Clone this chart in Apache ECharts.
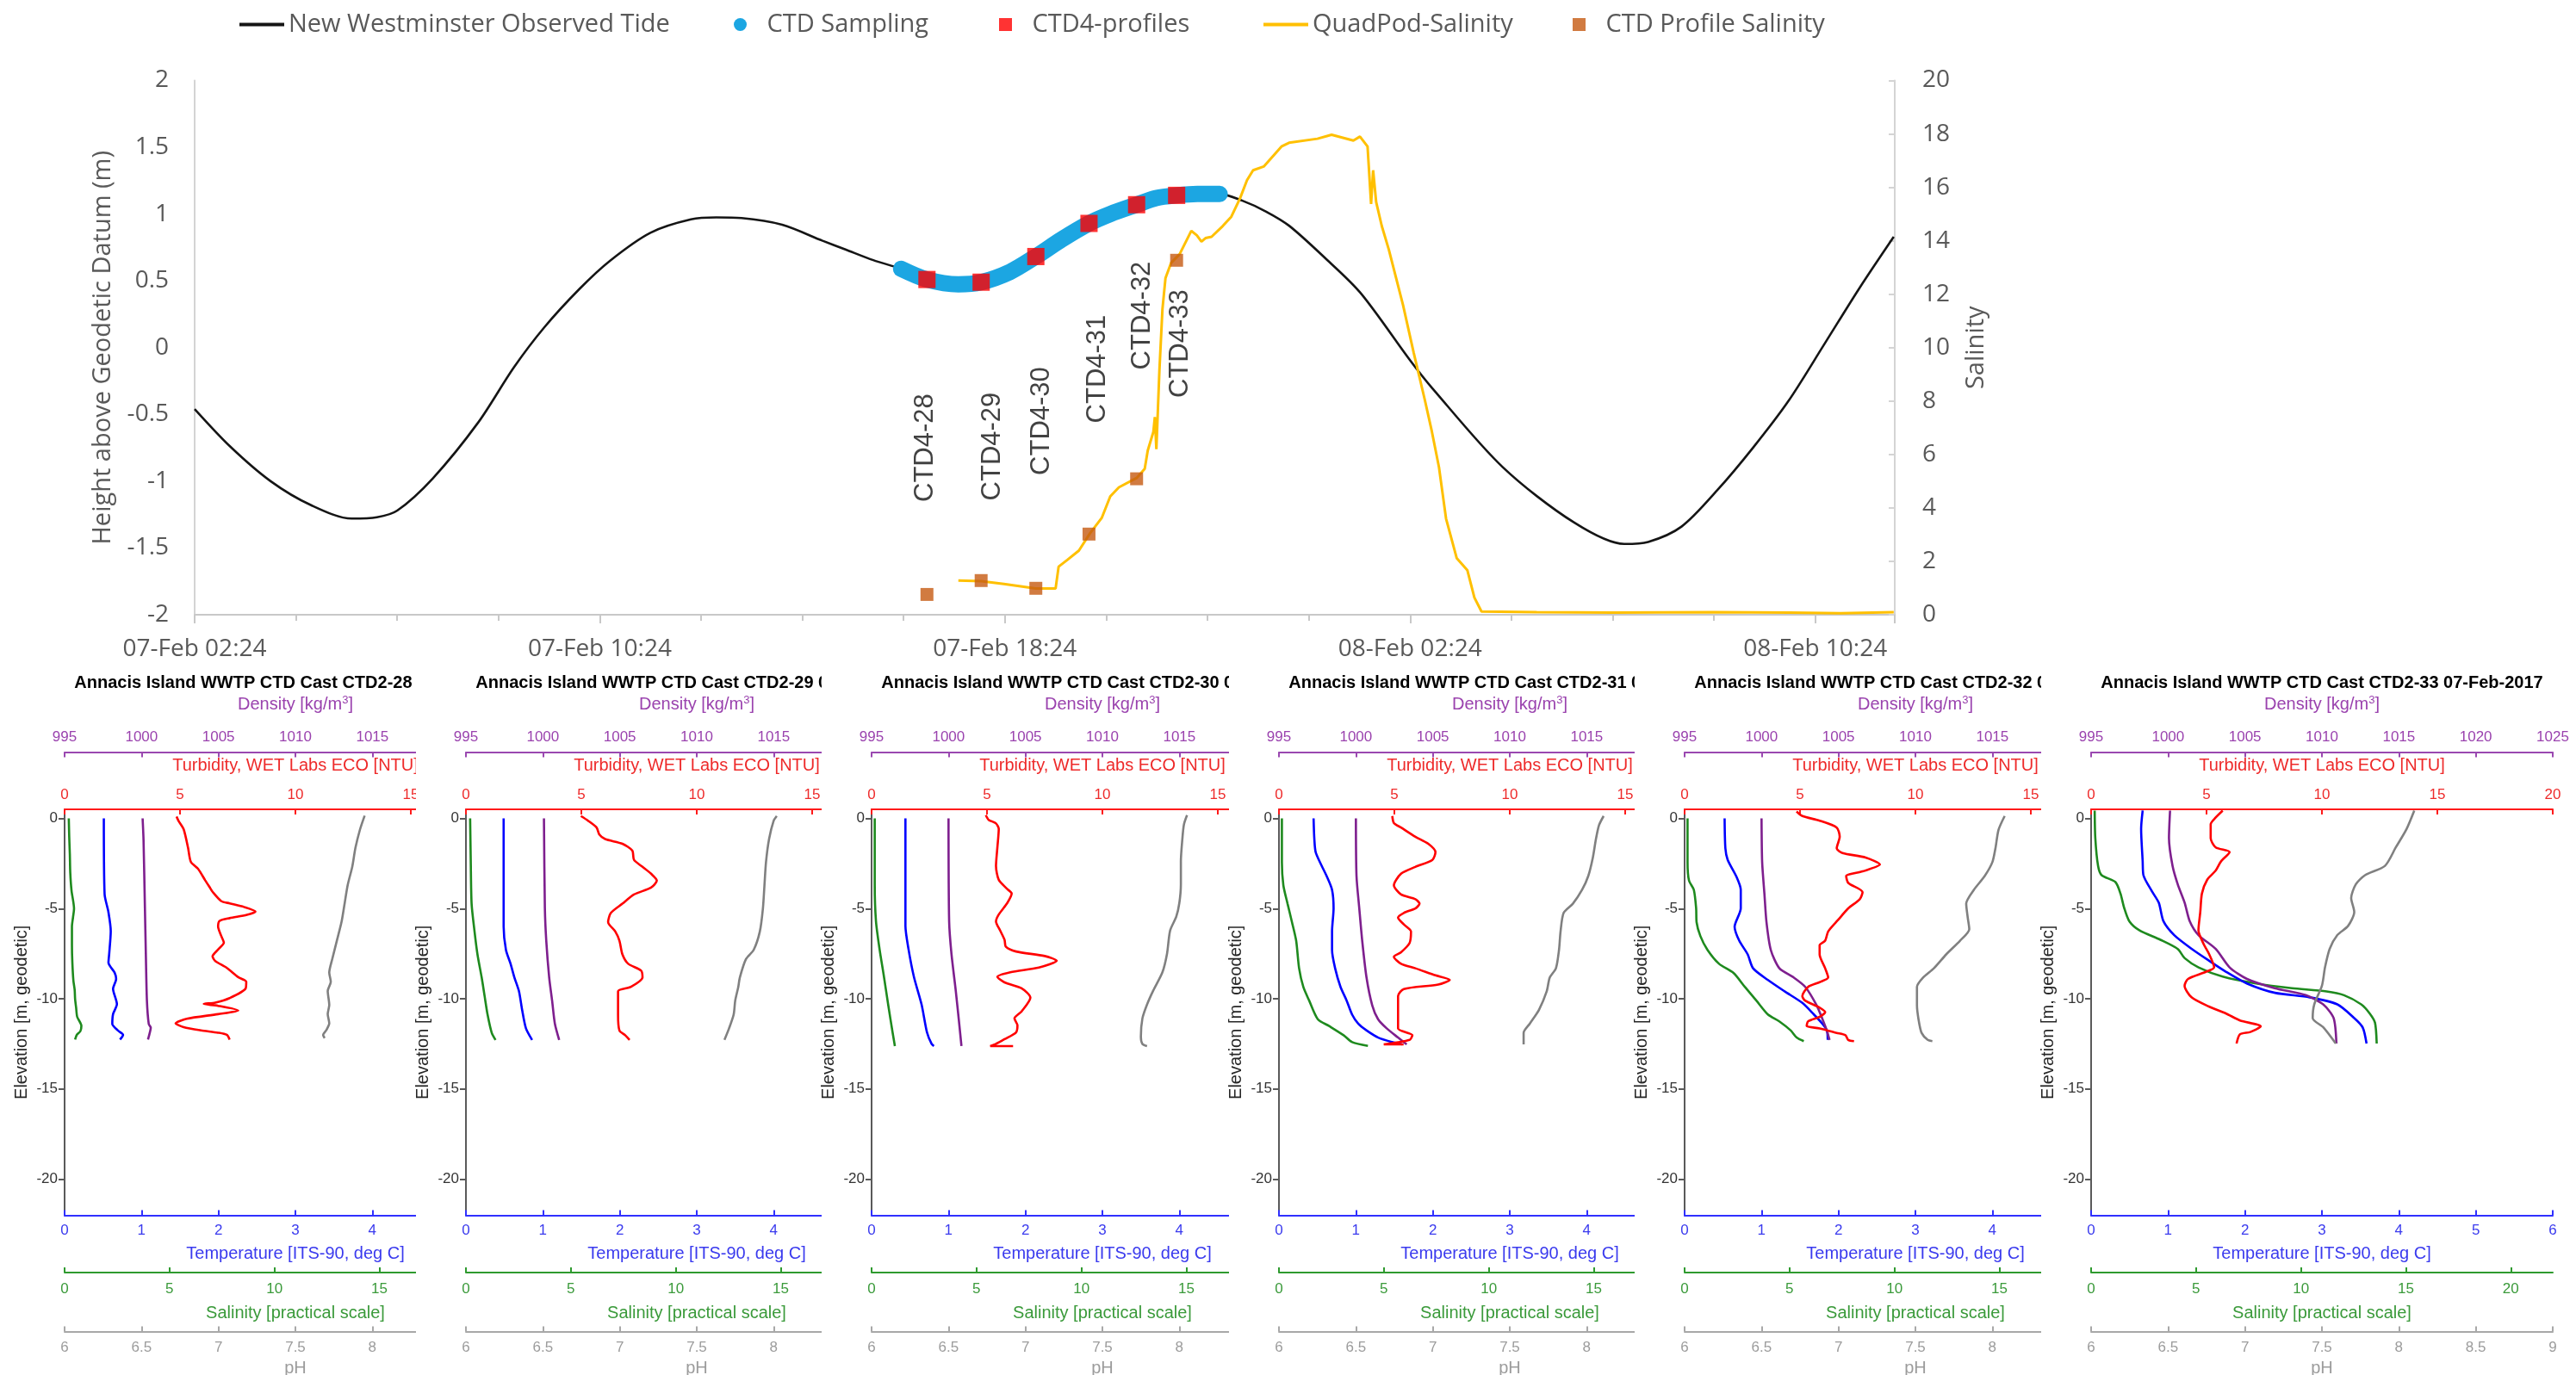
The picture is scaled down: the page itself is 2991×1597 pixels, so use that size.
<!DOCTYPE html>
<html>
<head>
<meta charset="utf-8">
<script src="https://cdn.jsdelivr.net/npm/echarts@6/dist/echarts.min.js"></script>
<style>
  html, body { margin: 0; padding: 0; background: #ffffff; }
  #chart { width: 2991px; height: 1597px; }
</style>
</head>
<body>
<div id="chart"></div>
<script>
// ---------------- Tide / salinity time series ----------------
// x values are hours after 07-Feb-2017 02:24
const timeTickLabels = ['07-Feb 02:24', '07-Feb 10:24', '07-Feb 18:24', '08-Feb 02:24', '08-Feb 10:24'];

// New Westminster observed tide [hours, m above geodetic datum]
const observedTide = [
  [0, -0.46], [0.7, -0.74], [1.5, -1.0], [2.3, -1.18], [3.1, -1.28], [3.6, -1.27], [4.0, -1.22],
  [4.7, -0.98], [5.6, -0.56], [6.3, -0.15], [6.9, 0.15], [7.6, 0.44], [8.2, 0.65], [9.0, 0.86],
  [9.8, 0.96], [10.3, 0.975], [10.8, 0.97], [11.6, 0.92], [12.4, 0.80], [12.85, 0.735], [13.4, 0.655],
  [13.95, 0.59], [14.46, 0.51], [15.08, 0.474], [15.53, 0.49], [16.1, 0.567], [16.61, 0.682],
  [17.12, 0.81], [17.66, 0.93], [18.08, 1.0], [18.6, 1.07], [18.99, 1.12], [19.39, 1.14], [19.8, 1.15],
  [20.24, 1.15], [20.69, 1.10], [21.15, 1.02], [21.61, 0.913], [22.31, 0.675], [23.02, 0.41],
  [24.0, -0.095], [24.43, -0.30], [25.83, -0.895], [27.24, -1.31], [28.23, -1.47], [28.7, -1.455],
  [29.36, -1.34], [30.06, -1.07], [30.77, -0.75], [31.47, -0.40], [32.17, 0.02], [32.88, 0.45], [33.55, 0.83]
];

// Period during which CTD sampling took place [start hour, end hour]
const samplingWindow = [13.95, 20.24];

// CTD4 profile casts
const profileNames = ['CTD4-28', 'CTD4-29', 'CTD4-30', 'CTD4-31', 'CTD4-32', 'CTD4-33'];
const profileHours = [14.46, 15.53, 16.61, 17.66, 18.6, 19.39];
const profileTide = [0.51, 0.49, 0.682, 0.93, 1.07, 1.14];
const profileSalinity = [0.76, 1.28, 0.99, 3.02, 5.09, 13.27];
// annotation anchors for the cast names [hours, m]
const profileLabelHours = [14.43, 15.76, 16.72, 17.83, 18.71, 19.47];
const profileLabelLevel = [-0.75, -0.74, -0.55, -0.16, 0.24, 0.03];

// QuadPod salinity [hours, PSU]
const quadPodSalinity = [
  [15.08, 1.28], [15.53, 1.26], [15.98, 1.15], [16.61, 0.98], [17.0, 0.98], [17.06, 1.8], [17.23, 2.05],
  [17.46, 2.4], [17.68, 3.05], [17.91, 3.62], [18.08, 4.43], [18.25, 4.77], [18.6, 5.12], [18.76, 5.46],
  [18.82, 6.15], [18.93, 6.84], [18.96, 7.4], [18.99, 6.2], [19.05, 9.14], [19.11, 11.44], [19.17, 12.6],
  [19.28, 13.17], [19.45, 13.5], [19.68, 14.37], [19.79, 14.2], [19.88, 13.97], [19.96, 14.1],
  [20.08, 14.15], [20.3, 14.55], [20.47, 14.9], [20.64, 15.58], [20.78, 16.27], [20.9, 16.64],
  [21.11, 16.78], [21.46, 17.53], [21.61, 17.67], [22.17, 17.82], [22.45, 17.97], [22.88, 17.75],
  [23.01, 17.9], [23.16, 17.53], [23.23, 15.38], [23.27, 16.64], [23.33, 15.45], [23.44, 14.56],
  [23.58, 13.67], [23.86, 11.6], [24.07, 9.82], [24.29, 8.05], [24.43, 6.86], [24.57, 5.53],
  [24.71, 3.6], [24.92, 2.12], [25.13, 1.67], [25.27, 0.64], [25.41, 0.12], [26.5, 0.1], [28.0, 0.08],
  [30.0, 0.1], [31.5, 0.08], [32.5, 0.06], [33.55, 0.1]
];

// ---------------- CTD cast profiles [value, elevation m] ----------------
const castNames = ['CTD2-28', 'CTD2-29', 'CTD2-30', 'CTD2-31', 'CTD2-32', 'CTD2-33'];
const castDate = '07-Feb-2017';

const sal28 = [[0.2,0],[0.22,-1],[0.25,-2],[0.27,-3],[0.33,-4],[0.45,-5],[0.4,-5.5],[0.35,-6],[0.35,-7],[0.37,-8],[0.42,-9],[0.48,-9.5],[0.5,-10],[0.55,-10.5],[0.6,-11],[0.8,-11.5],[0.75,-11.8],[0.58,-12],[0.5,-12.26]];
const temp28 = [[0.51,0],[0.52,-4.2],[0.57,-5.2],[0.6,-6.25],[0.58,-7.5],[0.57,-8.0],[0.65,-8.55],[0.67,-8.9],[0.63,-9.45],[0.68,-10.3],[0.63,-10.85],[0.62,-11.4],[0.69,-11.75],[0.76,-12.0],[0.72,-12.26]];
const dens28 = [[1000.07,0],[1000.13,-1.2],[1000.22,-4.97],[1000.28,-7.5],[1000.35,-10.1],[1000.47,-11.4],[1000.6,-11.6],[1000.47,-12.1],[1000.42,-12.26]];
const turb28 = [[4.85,0.1],[4.94,-0.15],[5.16,-0.61],[5.35,-1.64],[5.47,-2.41],[5.78,-2.79],[6.09,-3.43],[6.28,-3.81],[6.41,-4.07],[6.78,-4.58],[7.15,-4.71],[7.77,-4.91],[8.27,-5.17],[7.9,-5.35],[7.15,-5.53],[6.72,-5.68],[6.65,-5.99],[6.78,-6.5],[6.9,-6.89],[6.65,-7.27],[6.41,-7.65],[6.53,-7.91],[7.03,-8.29],[7.52,-8.8],[7.87,-9.06],[7.84,-9.44],[7.15,-9.96],[6.53,-10.21],[6.03,-10.29],[6.65,-10.39],[7.52,-10.65],[6.65,-10.85],[5.29,-11.11],[4.81,-11.36],[5.16,-11.57],[5.91,-11.75],[6.65,-11.88],[7.03,-12.0],[7.15,-12.26]];
const ph28 = [[7.95,0.15],[7.92,-0.61],[7.89,-1.64],[7.87,-2.66],[7.84,-3.69],[7.82,-4.71],[7.8,-5.73],[7.77,-6.76],[7.74,-7.78],[7.72,-8.55],[7.73,-9.06],[7.71,-9.57],[7.72,-10.34],[7.71,-10.85],[7.72,-11.36],[7.7,-11.75],[7.68,-12.0],[7.69,-12.18]];

const sal29 = [[0.2,0],[0.23,-2.4],[0.27,-4.73],[0.41,-6.27],[0.55,-7.54],[0.75,-8.82],[0.89,-9.85],[1.03,-10.87],[1.23,-11.89],[1.41,-12.28]];
const temp29 = [[0.49,0],[0.49,-3.7],[0.49,-6.0],[0.52,-7.29],[0.58,-8.06],[0.63,-8.82],[0.69,-9.59],[0.73,-10.61],[0.78,-11.64],[0.86,-12.28]];
const dens29 = [[1000.07,0],[1000.13,-4.99],[1000.22,-6.78],[1000.41,-8.82],[1000.6,-10.1],[1000.78,-11.38],[1001.06,-12.28]];
const turb29 = [[4.98,0.13],[5.29,-0.13],[5.66,-0.51],[5.78,-0.9],[6.03,-1.15],[6.78,-1.41],[7.21,-1.79],[7.28,-2.3],[7.65,-2.69],[8.02,-3.07],[8.27,-3.45],[8.02,-3.84],[7.28,-4.22],[6.78,-4.73],[6.28,-5.24],[6.16,-5.75],[6.47,-6.27],[6.65,-6.78],[6.78,-7.54],[7.03,-8.06],[7.59,-8.44],[7.65,-8.82],[7.15,-9.34],[6.59,-9.59],[6.59,-10.87],[6.65,-11.76],[6.9,-12.02],[7.09,-12.28]];
const ph29 = [[8.02,0.13],[8.0,-0.13],[7.97,-1.15],[7.95,-2.43],[7.94,-3.71],[7.93,-4.99],[7.91,-6.27],[7.87,-7.29],[7.82,-7.8],[7.78,-8.82],[7.77,-9.34],[7.75,-10.1],[7.74,-10.87],[7.71,-11.64],[7.68,-12.28]];

const sal30 = [[0.15,0],[0.15,-3.66],[0.21,-5.71],[0.38,-7.25],[0.59,-8.78],[0.79,-10.32],[1.0,-11.86],[1.11,-12.62]];
const temp30 = [[0.44,0],[0.44,-5.97],[0.48,-7.25],[0.55,-8.78],[0.65,-10.32],[0.72,-11.86],[0.78,-12.5],[0.81,-12.62]];
const dens30 = [[1000.0,0],[1000.04,-5.71],[1000.19,-7.5],[1000.47,-9.55],[1000.69,-11.34],[1000.84,-12.62]];
const turb30 = [[4.95,0.18],[5.07,-0.08],[5.39,-0.28],[5.51,-0.59],[5.45,-1.61],[5.39,-2.64],[5.51,-3.41],[5.88,-3.92],[6.07,-4.17],[5.88,-4.69],[5.51,-5.33],[5.39,-5.71],[5.57,-6.22],[5.76,-6.73],[5.82,-7.12],[6.26,-7.38],[7.5,-7.63],[8.02,-7.89],[7.25,-8.27],[6.01,-8.53],[5.45,-8.78],[5.76,-9.09],[6.5,-9.42],[6.88,-9.94],[6.5,-10.7],[6.19,-11.09],[6.32,-11.47],[6.26,-11.86],[5.76,-12.24],[5.39,-12.5],[5.14,-12.62],[6.13,-12.62]];
const ph30 = [[8.05,0.18],[8.03,-0.33],[8.02,-1.1],[8.01,-2.38],[8.01,-3.66],[8.0,-4.69],[7.98,-5.45],[7.94,-6.22],[7.92,-7.5],[7.89,-8.53],[7.83,-9.55],[7.79,-10.32],[7.76,-11.09],[7.75,-12.11],[7.76,-12.5],[7.79,-12.62]];

const sal31 = [[0.14,0],[0.14,-2.43],[0.21,-3.71],[0.41,-4.73],[0.62,-5.75],[0.82,-6.78],[0.96,-8.31],[1.16,-9.34],[1.44,-10.1],[1.85,-11.13],[2.39,-11.51],[3.08,-12.02],[3.49,-12.4],[4.24,-12.61]];
const temp31 = [[0.45,0],[0.46,-1.15],[0.48,-1.92],[0.62,-3.2],[0.69,-3.96],[0.71,-4.99],[0.69,-6.27],[0.69,-7.29],[0.73,-8.31],[0.8,-9.34],[0.88,-10.1],[0.95,-10.87],[1.03,-11.38],[1.14,-11.76],[1.29,-12.15],[1.47,-12.4],[1.6,-12.53]];
const dens31 = [[1000.0,0],[1000.04,-3.2],[1000.22,-4.99],[1000.41,-6.78],[1000.69,-8.82],[1001.06,-10.36],[1001.44,-11.13],[1002.0,-11.64],[1002.74,-12.15],[1003.3,-12.53]];
const turb31 = [[4.91,0.13],[4.98,-0.26],[5.29,-0.51],[5.91,-1.02],[6.47,-1.41],[6.78,-1.87],[6.65,-2.3],[5.91,-2.69],[5.29,-3.07],[4.98,-3.71],[5.29,-4.22],[5.91,-4.48],[6.09,-4.73],[5.91,-4.99],[5.41,-5.24],[5.16,-5.5],[5.41,-5.88],[5.72,-6.27],[5.66,-6.91],[5.29,-7.42],[4.98,-7.67],[5.29,-8.06],[5.91,-8.31],[6.78,-8.7],[7.4,-8.95],[6.9,-9.21],[5.41,-9.46],[5.16,-9.85],[5.16,-10.87],[5.16,-11.64],[5.78,-12.02],[5.66,-12.28],[4.54,-12.53],[5.4,-12.53]];
const ph31 = [[8.11,0.13],[8.08,-0.38],[8.06,-1.15],[8.04,-2.17],[8.01,-3.2],[7.97,-3.96],[7.91,-4.73],[7.85,-5.24],[7.83,-6.27],[7.82,-7.29],[7.8,-8.31],[7.76,-8.82],[7.74,-9.59],[7.69,-10.61],[7.63,-11.38],[7.59,-11.89],[7.59,-12.53]];

const sal32 = [[0.14,0],[0.14,-2.43],[0.21,-3.45],[0.44,-3.96],[0.55,-4.99],[0.57,-5.75],[0.75,-6.52],[1.09,-7.29],[1.64,-8.06],[2.33,-8.57],[2.87,-9.34],[3.42,-10.1],[3.97,-10.87],[4.51,-11.25],[5.06,-11.76],[5.34,-12.15],[5.68,-12.35]];
const temp32 = [[0.52,0],[0.53,-1.66],[0.56,-2.3],[0.67,-3.2],[0.73,-3.96],[0.73,-4.99],[0.65,-6.01],[0.71,-6.78],[0.82,-7.54],[0.89,-8.31],[1.08,-8.95],[1.3,-9.59],[1.53,-10.23],[1.68,-10.87],[1.79,-11.38],[1.85,-11.76],[1.86,-12.28]];
const dens32 = [[1000.0,0],[1000.04,-2.43],[1000.19,-4.22],[1000.32,-5.75],[1000.6,-7.29],[1001.16,-8.31],[1002.09,-8.82],[1002.84,-9.34],[1003.58,-10.36],[1003.96,-11.13],[1004.24,-11.76],[1004.42,-12.28]];
const turb32 = [[4.85,0.38],[5.1,0.13],[5.85,-0.13],[6.59,-0.51],[6.72,-1.02],[6.59,-1.66],[6.84,-1.92],[7.84,-2.17],[8.46,-2.56],[7.71,-2.94],[7.0,-3.2],[7.09,-3.58],[7.71,-4.09],[7.59,-4.48],[7.09,-4.99],[6.65,-5.63],[6.22,-6.27],[6.09,-6.78],[5.85,-7.03],[5.85,-7.54],[6.09,-8.31],[6.22,-8.82],[5.85,-9.08],[5.35,-9.34],[5.1,-9.85],[5.22,-10.1],[5.85,-10.49],[6.09,-10.74],[5.85,-11.0],[5.35,-11.25],[5.29,-11.51],[5.85,-11.64],[6.59,-11.89],[6.97,-12.02],[7.09,-12.28],[7.34,-12.35]];
const ph32 = [[8.08,0.13],[8.04,-0.64],[8.02,-1.66],[8.0,-2.43],[7.95,-3.2],[7.88,-3.96],[7.83,-4.73],[7.84,-5.5],[7.85,-6.14],[7.79,-6.78],[7.7,-7.54],[7.62,-8.31],[7.55,-8.82],[7.51,-9.34],[7.51,-10.36],[7.52,-11.13],[7.54,-11.89],[7.58,-12.28],[7.61,-12.35]];

const sal33 = [[0.17,0.43],[0.2,-1.1],[0.33,-2.63],[0.5,-3.15],[1.16,-3.53],[1.4,-4.17],[1.57,-4.94],[1.82,-5.7],[2.31,-6.21],[3.3,-6.73],[4.13,-7.24],[4.46,-7.75],[5.12,-8.26],[6.27,-8.77],[7.92,-9.16],[9.57,-9.41],[11.22,-9.59],[12.05,-9.8],[12.87,-10.31],[13.28,-10.82],[13.53,-11.33],[13.61,-12.48]];
const temp33 = [[0.67,0.43],[0.65,-0.59],[0.67,-2.38],[0.68,-3.15],[0.79,-4.04],[0.88,-4.68],[0.94,-5.7],[1.08,-6.47],[1.31,-7.24],[1.53,-7.88],[1.76,-8.52],[2.03,-9.16],[2.39,-9.67],[2.84,-9.92],[3.2,-10.31],[3.42,-11.07],[3.53,-11.59],[3.58,-12.48]];
const dens33 = [[1000.13,0.43],[1000.06,-1.1],[1000.29,-2.63],[1000.63,-3.66],[1001.08,-4.68],[1001.41,-5.7],[1001.98,-6.47],[1003.1,-7.24],[1004.0,-8.26],[1005.13,-8.9],[1006.93,-9.41],[1008.95,-9.8],[1010.08,-10.31],[1010.76,-11.07],[1010.94,-12.48]];
const turb33 = [[5.7,0.43],[5.4,0.05],[5.18,-0.33],[5.18,-1.1],[5.4,-1.61],[6.0,-1.87],[5.63,-2.38],[5.4,-2.89],[5.03,-3.4],[4.8,-4.17],[4.73,-5.19],[4.65,-6.21],[4.88,-6.98],[5.1,-7.49],[5.33,-8.26],[4.95,-8.52],[4.2,-8.9],[4.05,-9.28],[4.35,-9.92],[5.1,-10.43],[5.85,-10.82],[6.45,-11.2],[7.35,-11.53],[6.9,-11.84],[6.45,-11.97],[6.3,-12.48]];
const ph33 = [[8.1,0.43],[8.05,-0.59],[7.98,-1.61],[7.91,-2.63],[7.78,-3.15],[7.72,-3.66],[7.69,-4.42],[7.71,-5.19],[7.67,-5.96],[7.6,-6.47],[7.55,-7.24],[7.52,-8.26],[7.5,-9.28],[7.45,-10.31],[7.44,-11.07],[7.51,-11.59],[7.59,-12.48]];

const elevationTicks = [-20, -15, -10, -5, 0];

// ---------------- layout / styling ----------------
const TOP_FONT = 'Open Sans';
const PANEL_FONT = 'Liberation Sans';
const GRAY_TEXT = '#595959';

const panelLeft = [75, 541, 1012, 1485, 1956, 2428];   // x of each profile's elevation axis
const panelWidth = 536;
const panelTop = 940;
const panelHeight = 471.5;

const casts = [
  { sal: sal28, temp: temp28, dens: dens28, turb: turb28, ph: ph28 },
  { sal: sal29, temp: temp29, dens: dens29, turb: turb29, ph: ph29 },
  { sal: sal30, temp: temp30, dens: dens30, turb: turb30, ph: ph30 },
  { sal: sal31, temp: temp31, dens: dens31, turb: turb31, ph: ph31 },
  { sal: sal32, temp: temp32, dens: dens32, turb: turb32, ph: ph32 },
  { sal: sal33, temp: temp33, dens: dens33, turb: turb33, ph: ph33 }
];

// the five horizontal scales of a profile plot
const profileAxes = [
  { key: 'turb', name: 'Turbidity, WET Labs ECO [NTU]', min: 0, max: 20, interval: 5, line: '#FF1A1A', text: '#EE2A2A', lineColor: '#FF0000', position: 'top', offset: 0, margin: 8, nameGap: 39 },
  { key: 'dens', name: 'Density [kg/m{sup|3}]', min: 995, max: 1025, interval: 5, line: '#9A48B0', text: '#9A42AE', lineColor: '#7E1F8E', position: 'top', offset: 66.5, margin: 9, nameGap: 43 },
  { key: 'temp', name: 'Temperature [ITS-90, deg C]', min: 0, max: 6, interval: 1, line: '#3030FF', text: '#3A3AEE', lineColor: '#0000FF', position: 'bottom', offset: 0, margin: 9, nameGap: 33 },
  { key: 'sal', name: 'Salinity [practical scale]', min: 0, max: 22, interval: 5, line: '#2F9A2F', text: '#3A9A3A', lineColor: '#1E8A1E', position: 'bottom', offset: 66.5, margin: 11, nameGap: 35 },
  { key: 'ph', name: 'pH', min: 6, max: 9, interval: 0.5, line: '#A8A8A8', text: '#9C9C9C', lineColor: '#808080', position: 'bottom', offset: 135, margin: 10, nameGap: 31 }
];
const drawOrder = ['sal', 'temp', 'dens', 'turb', 'ph'];

// ---------------- option ----------------
const option = {
  animation: false,
  backgroundColor: '#ffffff',
  textStyle: { fontFamily: PANEL_FONT },
  grid: [{ left: 226, top: 93.5, width: 1974, height: 620.5, outerBoundsMode: 'none' }],
  xAxis: [{
    type: 'value', gridIndex: 0, min: 0, max: 33.57, interval: 8,
    axisLine: { show: true, onZero: false, lineStyle: { color: '#C8C8C8', width: 2 } },
    axisTick: { show: true, inside: false, length: 10, lineStyle: { color: '#C8C8C8', width: 2 } },
    minorTick: { show: true, splitNumber: 4, length: 7, lineStyle: { color: '#C8C8C8', width: 2 } },
    splitLine: { show: false }, minorSplitLine: { show: false },
    axisLabel: {
      color: GRAY_TEXT, fontSize: 28, fontFamily: TOP_FONT, margin: 26, showMaxLabel: false,
      formatter: v => {
        const i = Math.round(v / 8);
        return Math.abs(v - i * 8) < 1e-6 && timeTickLabels[i] ? timeTickLabels[i] : '';
      }
    }
  }],
  yAxis: [{
    type: 'value', gridIndex: 0, position: 'left', min: -2, max: 2, interval: 0.5,
    axisLine: { show: true, onZero: false, lineStyle: { color: '#D4D4D4', width: 2 } },
    axisTick: { show: false }, splitLine: { show: false },
    axisLabel: { color: GRAY_TEXT, fontSize: 28, fontFamily: TOP_FONT, margin: 30 },
    name: 'Height above Geodetic Datum (m)', nameLocation: 'middle', nameGap: 92, nameMoveOverlap: false,
    nameTextStyle: { color: GRAY_TEXT, fontSize: 29, fontFamily: TOP_FONT }
  }, {
    type: 'value', gridIndex: 0, position: 'right', min: 0, max: 20, interval: 2,
    axisLine: { show: true, onZero: false, lineStyle: { color: '#D4D4D4', width: 2 } },
    axisTick: { show: true, inside: true, length: 7, lineStyle: { color: '#D4D4D4', width: 2 } },
    splitLine: { show: false },
    axisLabel: { color: GRAY_TEXT, fontSize: 28, fontFamily: TOP_FONT, margin: 32 },
    name: 'Salinity', nameLocation: 'middle', nameGap: 80, nameMoveOverlap: false,
    nameTextStyle: { color: GRAY_TEXT, fontSize: 29, fontFamily: TOP_FONT }
  }],
  legend: [],
  series: [],
  graphic: { elements: [] }
};

// ---- tide / salinity series ----
option.series.push({
  name: 'New Westminster Observed Tide', type: 'line', xAxisIndex: 0, yAxisIndex: 0,
  data: observedTide, symbol: 'none', smooth: 0.3, z: 2,
  lineStyle: { color: '#151515', width: 2.6 }, itemStyle: { color: '#151515' }
});
option.series.push({
  name: 'CTD Sampling', type: 'line', xAxisIndex: 0, yAxisIndex: 0,
  data: observedTide.filter(p => p[0] >= samplingWindow[0] && p[0] <= samplingWindow[1]),
  symbol: 'none', smooth: 0.3, z: 3,
  lineStyle: { color: '#1CA6E2', width: 19, cap: 'round', join: 'round' }, itemStyle: { color: '#1CA6E2' }
});
option.series.push({
  name: 'CTD4-profiles', type: 'scatter', xAxisIndex: 0, yAxisIndex: 0,
  data: profileHours.map((h, i) => [h, profileTide[i]]),
  symbol: 'rect', symbolSize: 20, z: 5, itemStyle: { color: '#FF0000' }
});
option.series.push({
  name: 'QuadPod-Salinity', type: 'line', xAxisIndex: 0, yAxisIndex: 1,
  data: quadPodSalinity, symbol: 'none', z: 4,
  lineStyle: { color: '#FFC000', width: 3 }, itemStyle: { color: '#FFC000' }
});
option.series.push({
  name: 'CTD Profile Salinity', type: 'scatter', xAxisIndex: 0, yAxisIndex: 1,
  data: profileHours.map((h, i) => [h, profileSalinity[i]]),
  symbol: 'rect', symbolSize: 15, z: 6, itemStyle: { color: '#C55A11' }
});
option.series.push({
  name: 'cast-names', type: 'scatter', xAxisIndex: 0, yAxisIndex: 0, silent: true,
  data: profileLabelHours.map((h, i) => [h, profileLabelLevel[i]]),
  symbolSize: 0.1, itemStyle: { color: 'transparent' }, z: 7,
  label: {
    show: true, position: 'inside', rotate: 90,
    formatter: p => profileNames[p.dataIndex],
    color: '#111111', fontSize: 31, fontFamily: PANEL_FONT
  }
});

// ---- legend: one component per entry ----
const LINE_ICON = 'path://M0,0h52v4h-52z';
const SQUARE_ICON = 'path://M0,0h10v10h-10z';
const legendBase = {
  orient: 'horizontal', top: 14, padding: 0, itemWidth: 52, itemHeight: 15, itemGap: 0,
  selectedMode: false, symbolKeepAspect: true,
  textStyle: { color: GRAY_TEXT, fontSize: 29, fontFamily: TOP_FONT }
};
option.legend.push(Object.assign({}, legendBase, { left: 278, data: [{ name: 'New Westminster Observed Tide', icon: LINE_ICON }] }));
option.legend.push(Object.assign({}, legendBase, { left: 852, data: [{ name: 'CTD Sampling', icon: 'circle' }] }));
option.legend.push(Object.assign({}, legendBase, { left: 1160, data: [{ name: 'CTD4-profiles', icon: SQUARE_ICON }] }));
option.legend.push(Object.assign({}, legendBase, { left: 1467, data: [{ name: 'QuadPod-Salinity', icon: LINE_ICON }] }));
option.legend.push(Object.assign({}, legendBase, { left: 1826, data: [{ name: 'CTD Profile Salinity', icon: SQUARE_ICON }] }));

// ---- profile panels (each later panel is laid over the right part of the previous one) ----
casts.forEach((cast, k) => {
  const gridIndex = k + 1;
  const zb = 10 * (k + 1);
  const left = panelLeft[k];

  if (k > 0) {
    option.graphic.elements.push({
      type: 'rect', z: zb, silent: true,
      shape: { x: left - 58, y: 775, width: 2991 - (left - 58), height: 1597 - 775 },
      style: { fill: '#ffffff' }
    });
  }
  option.graphic.elements.push({
    type: 'text', z: zb + 4, silent: true, x: left + panelWidth / 2, y: 793,
    style: {
      text: 'Annacis Island WWTP CTD Cast ' + castNames[k] + ' ' + castDate,
      font: 'bold 20px "' + PANEL_FONT + '"', fill: '#000000',
      textAlign: 'center', align: 'center', textVerticalAlign: 'middle', verticalAlign: 'middle'
    }
  });

  option.grid.push({ left: left, top: panelTop, width: panelWidth, height: panelHeight, outerBoundsMode: 'none' });

  const yIndex = option.yAxis.length;
  option.yAxis.push({
    type: 'value', gridIndex: gridIndex, min: -22, max: 0.5, z: zb + 1,
    axisLine: { show: true, onZero: false, lineStyle: { color: '#5a5a5a', width: 2 } },
    axisTick: { show: true, inside: false, length: 7, customValues: elevationTicks, lineStyle: { color: '#5a5a5a', width: 2 } },
    axisLabel: { customValues: elevationTicks, color: '#333333', fontSize: 17, margin: 8 },
    splitLine: { show: false },
    name: 'Elevation [m, geodetic]', nameLocation: 'middle', nameGap: 40, nameMoveOverlap: false,
    nameTextStyle: { color: '#262626', fontSize: 20 }
  });

  const xIndexOf = {};
  profileAxes.forEach(d => {
    xIndexOf[d.key] = option.xAxis.length;
    option.xAxis.push({
      type: 'value', gridIndex: gridIndex, position: d.position, offset: d.offset,
      min: d.min, max: d.max, interval: d.interval, z: zb + 1,
      axisLine: { show: true, onZero: false, lineStyle: { color: d.line, width: 2 } },
      axisTick: { show: true, inside: true, length: 6, lineStyle: { color: d.line, width: 2 } },
      axisLabel: {
        color: d.text, fontSize: 17, margin: d.margin, showMaxLabel: d.key !== 'sal',
        formatter: v => String(Math.round(v * 10) / 10)
      },
      splitLine: { show: false },
      name: d.name, nameLocation: 'middle', nameGap: d.nameGap, nameMoveOverlap: false,
      nameTextStyle: {
        color: d.text, fontSize: 20, lineHeight: 24,
        rich: { sup: { color: d.text, fontSize: 13, lineHeight: 24, verticalAlign: 'top' } }
      }
    });
  });

  drawOrder.forEach(key => {
    const d = profileAxes.find(a => a.key === key);
    option.series.push({
      name: castNames[k] + ' ' + key, type: 'line', xAxisIndex: xIndexOf[key], yAxisIndex: yIndex,
      data: cast[key], symbol: 'none', smooth: 0.25, silent: true, z: zb + 2,
      lineStyle: { color: d.lineColor, width: 2.6 }
    });
  });
});

const chart = echarts.init(document.getElementById('chart'), null, { renderer: 'canvas' });
chart.setOption(option);
</script>
</body>
</html>
